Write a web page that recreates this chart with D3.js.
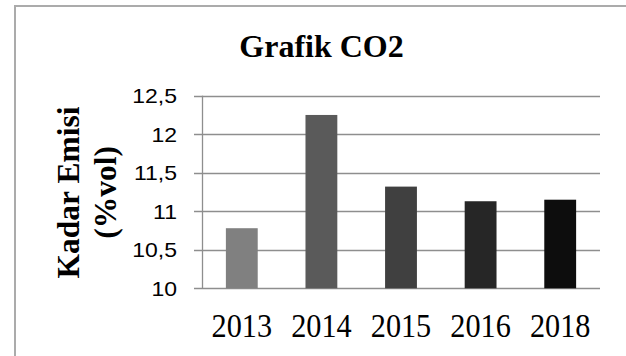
<!DOCTYPE html>
<html>
<head>
<meta charset="utf-8">
<script src="https://cdn.jsdelivr.net/npm/d3@7"></script>
<style>
  html, body { margin: 0; padding: 0; background: #fff; }
  svg { display: block; }
</style>
</head>
<body>
<svg id="chart" width="626" height="356"></svg>
<script>
const categories = ["2013", "2014", "2015", "2016", "2018"];
const values = [10.78, 12.25, 11.32, 11.13, 11.15];
const barColors = ["#808080", "#5a5a5a", "#404040", "#262626", "#0d0d0d"];
const yTicks = [10, 10.5, 11, 11.5, 12, 12.5];
const yTickLabels = ["10", "10,5", "11", "11,5", "12", "12,5"];
const titleText = "Grafik CO2";
const yTitleLines = ["Kadar Emisi", "(%vol)"];

const svg = d3.select("#chart");
const W = 626, H = 356;
const plot = { left: 202, right: 600, top: 95.7, bottom: 288.3 };

// outer frame (partial, as cropped)
svg.append("path")
  .attr("d", `M15,${H} L15,6 L${W},6`)
  .attr("fill", "none")
  .attr("stroke", "#ababab")
  .attr("stroke-width", 2);

const x = d3.scaleBand()
  .domain(categories)
  .range([plot.left, plot.right])
  .paddingInner(0.6)
  .paddingOuter(0.3);

const y = d3.scaleLinear()
  .domain([10, 12.5])
  .range([plot.bottom, plot.top]);

// gridlines
svg.append("g")
  .selectAll("line")
  .data(yTicks)
  .join("line")
  .attr("x1", plot.left - 8)
  .attr("x2", plot.right)
  .attr("y1", d => Math.round(y(d)) + 0.5)
  .attr("y2", d => Math.round(y(d)) + 0.5)
  .attr("stroke", "#8e8e8e")
  .attr("stroke-width", 1.3);

// vertical axis line
svg.append("line")
  .attr("x1", plot.left + 0.5).attr("x2", plot.left + 0.5)
  .attr("y1", y(12.5)).attr("y2", y(10))
  .attr("stroke", "#8e8e8e")
  .attr("stroke-width", 1.3);

// bars
svg.append("g")
  .selectAll("rect")
  .data(values)
  .join("rect")
  .attr("x", (d, i) => x(categories[i]))
  .attr("width", x.bandwidth())
  .attr("y", d => y(d))
  .attr("height", d => y(10) - y(d))
  .attr("fill", (d, i) => barColors[i]);

// y tick labels
svg.append("g")
  .selectAll("text")
  .data(yTicks)
  .join("text")
  .attr("transform", d => `translate(177,${y(d) + 7.3}) scale(1.15,1)`)
  .attr("text-anchor", "end")
  .attr("font-family", "Liberation Sans, Arial, sans-serif")
  .attr("font-size", 20)
  .attr("fill", "#000")
  .text((d, i) => yTickLabels[i]);

// x tick labels
svg.append("g")
  .selectAll("text")
  .data(categories)
  .join("text")
  .attr("transform", d => `translate(${x(d) + x.bandwidth() / 2},336.5) scale(0.89,1)`)
  .attr("text-anchor", "middle")
  .attr("font-family", "Liberation Serif, 'Times New Roman', serif")
  .attr("font-size", 34)
  .attr("fill", "#000")
  .text(d => d);

// title
svg.append("text")
  .attr("x", 321.5)
  .attr("y", 56.5)
  .attr("text-anchor", "middle")
  .attr("font-family", "Liberation Serif, 'Times New Roman', serif")
  .attr("font-weight", "bold")
  .attr("font-size", 32)
  .attr("fill", "#000")
  .text(titleText);

// y axis title (two lines, rotated)
const yTitleX = [78.5, 115.5];
svg.append("g")
  .selectAll("text")
  .data(yTitleLines)
  .join("text")
  .attr("transform", (d, i) => `translate(${yTitleX[i]},192.5) rotate(-90)`)
  .attr("text-anchor", "middle")
  .attr("font-family", "Liberation Serif, 'Times New Roman', serif")
  .attr("font-weight", "bold")
  .attr("font-size", 31.5)
  .attr("fill", "#000")
  .text(d => d);
</script>
</body>
</html>
